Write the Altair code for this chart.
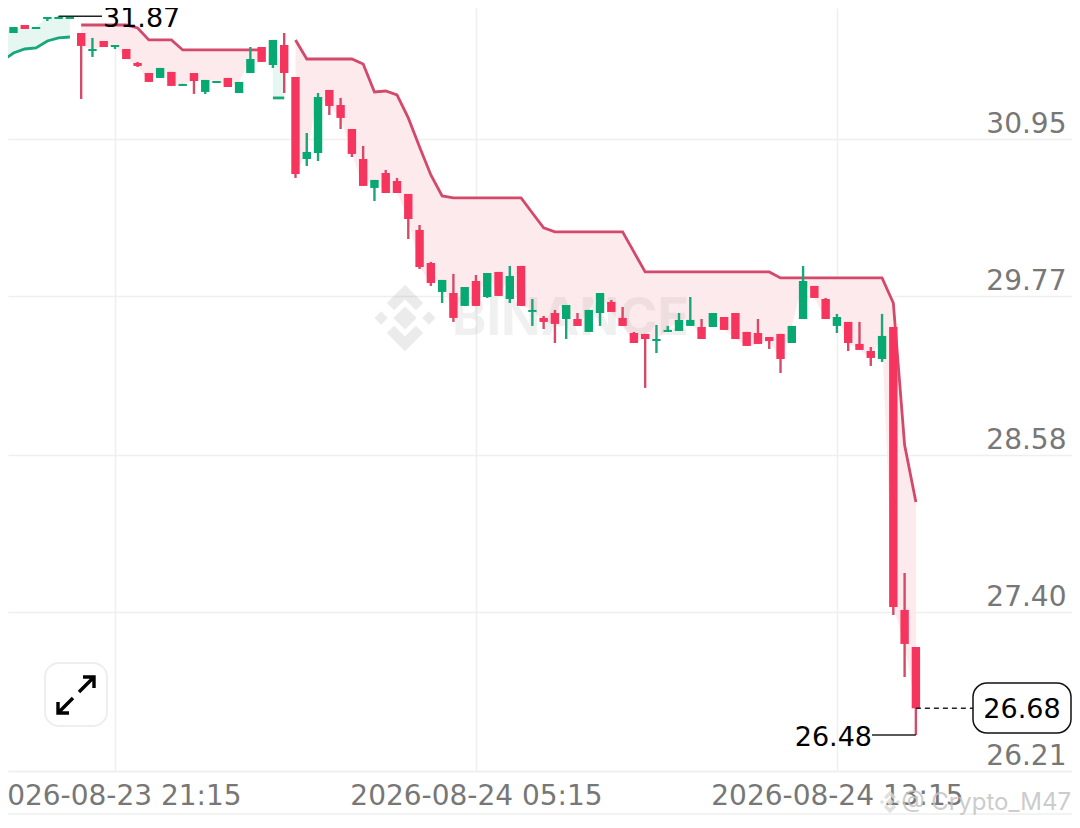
import altair as alt
import pandas as pd

FONT = "DejaVu Sans"
start = "2026-08-23T18:45:00Z"
opens = [31.700,31.745,31.805,31.775,31.850,31.850,31.850,31.745,31.610,31.685,
         31.640,31.625,31.520,31.445,31.408,31.453,31.348,31.445,31.303,31.370,
         31.408,31.295,31.445,31.640,31.505,31.655,31.415,30.800,30.845,31.318,
         31.205,31.025,30.800,30.583,30.695,30.635,30.538,30.268,30.020,29.803,
         29.795,29.698,29.885,29.765,29.953,29.750,29.998,29.653,29.608,29.645,
         29.600,29.600,29.503,29.645,29.728,29.608,29.495,29.488,29.435,29.503,
         29.510,29.548,29.540,29.540,29.615,29.645,29.503,29.495,29.465,29.488,
         29.420,29.600,29.848,29.750,29.548,29.578,29.413,29.360,29.300,29.540,
         27.418,27.140]
highs = [31.738,31.790,31.805,31.790,31.865,31.870,31.865,31.745,31.708,31.685,
         31.655,31.625,31.528,31.445,31.483,31.453,31.363,31.445,31.393,31.385,
         31.408,31.378,31.640,31.640,31.693,31.745,31.415,30.995,31.295,31.318,
         31.258,31.025,30.898,30.643,30.718,30.658,30.538,30.305,30.028,29.893,
         29.938,29.840,29.930,29.945,29.953,29.998,29.998,29.750,29.623,29.668,
         29.705,29.645,29.668,29.795,29.743,29.690,29.503,29.488,29.555,29.548,
         29.645,29.765,29.600,29.645,29.615,29.645,29.503,29.600,29.465,29.488,
         29.548,29.998,29.848,29.758,29.638,29.578,29.578,29.390,29.638,29.540,
         27.695,27.140]
lows = [31.700,31.745,31.775,31.775,31.835,31.850,31.850,31.250,31.565,31.640,
        31.625,31.550,31.490,31.378,31.408,31.348,31.348,31.288,31.288,31.370,
        31.340,31.295,31.445,31.528,31.483,31.295,30.658,30.748,30.785,31.130,
        31.025,30.815,30.598,30.485,30.545,30.545,30.200,29.975,29.848,29.720,
        29.578,29.698,29.698,29.758,29.773,29.720,29.698,29.548,29.525,29.420,
        29.450,29.548,29.503,29.548,29.653,29.548,29.420,29.083,29.345,29.503,
        29.510,29.548,29.450,29.540,29.518,29.450,29.398,29.413,29.375,29.195,
        29.420,29.600,29.758,29.600,29.495,29.360,29.368,29.248,29.278,27.380,
        26.915,26.480]
closes = [31.738,31.790,31.775,31.790,31.865,31.865,31.865,31.648,31.625,31.640,
          31.655,31.550,31.498,31.378,31.483,31.348,31.363,31.385,31.393,31.385,
          31.340,31.378,31.550,31.528,31.693,31.445,30.688,30.853,31.265,31.198,
          31.108,30.838,30.598,30.643,30.545,30.545,30.350,29.990,29.870,29.893,
          29.608,29.840,29.698,29.945,29.773,29.923,29.698,29.668,29.578,29.563,
          29.705,29.548,29.668,29.795,29.653,29.548,29.420,29.450,29.450,29.518,
          29.593,29.593,29.450,29.645,29.518,29.450,29.398,29.413,29.435,29.300,
          29.548,29.885,29.758,29.600,29.615,29.420,29.368,29.308,29.473,27.440,
          27.163,26.680]
trend = [31.535,31.595,31.625,31.633,31.685,31.708,31.715,
         31.805,31.805,31.805,31.805,31.805,31.783,31.693,31.693,31.693,
         31.618,31.618,31.618,31.618,31.618,31.618,31.618,31.618,
         31.258,31.258,
         31.693,31.550,31.550,31.550,31.550,31.550,31.513,31.303,31.310,31.280,
         31.108,30.890,30.680,30.523,30.508,30.508,30.508,30.508,30.508,30.508,
         30.508,30.395,30.283,30.253,30.253,30.253,30.253,30.253,30.253,30.253,
         30.103,29.953,29.953,29.953,29.953,29.953,29.953,29.953,29.953,29.953,
         29.953,29.953,29.953,29.908,29.908,29.908,29.908,29.908,29.908,29.908,
         29.908,29.908,29.908,29.720,28.655,28.228]
segment = ["g1"]*7 + ["r1"]*17 + ["g2"]*2 + ["r2"]*56
y_ticks = [30.95, 29.77, 28.58, 27.40, 26.21]
x_ticks = ["2026-08-23T21:15:00Z", "2026-08-24T05:15:00Z", "2026-08-24T13:15:00Z"]
y_domain = [26.21, 31.9325]
x_domain = ["2026-08-23T18:52:42Z", "2026-08-24T18:27:36Z"]
high_t, high_v = "2026-08-23T20:00:00Z", 31.87
low_t, low_v = "2026-08-24T15:00:00Z", 26.48
last_v = 26.68

times = pd.date_range(start=start, periods=len(opens), freq="15min").strftime("%Y-%m-%dT%H:%M:%SZ")
df = pd.DataFrame(dict(t=times, open=opens, high=highs, low=lows, close=closes,
                       trend=trend, seg=segment))
df["kind"] = df.seg.str[0]

GREEN, RED = "#07a871", "#f5355e"
LINE_R, LINE_G = "#d4486a", "#16a77a"
GRID = "#efefef"
LABEL = "#777777"

xs = alt.Scale(type="utc", domain=x_domain)
ys = alt.Scale(domain=y_domain, zero=False, nice=False)
x_axis = alt.Axis(
    values=x_ticks, labelExpr="utcFormat(datum.value, '%Y-%m-%d %H:%M')", grid=True, gridColor=GRID,
    gridWidth=1.5, ticks=False, domainColor=GRID, domainWidth=1.5, labelFont=FONT,
    labelFontSize=28, labelColor=LABEL, labelPadding=11, labelOverlap=False, labelLimit=400,
    labelFlush=False, labelBound=False)
y_axis = alt.Axis(
    values=y_ticks, orient="right", format=".2f", grid=True, gridColor=GRID, gridWidth=1.5,
    ticks=False, domain=False, labelFont=FONT, labelFontSize=28, labelColor=LABEL,
    labelAlign="right", labelPadding=-6, labelOffset=-15, labelOverlap=False,
    labelFlush=False, labelBound=False)
X = alt.X("t:T", scale=xs, axis=x_axis, title=None)
Y = lambda f: alt.Y(f, type="quantitative", scale=ys, axis=y_axis, title=None)
cond = lambda a, b: alt.condition("datum.close >= datum.open", alt.value(a), alt.value(b))
base = alt.Chart(df)

LOGO = ("M0,-0.35L0.35,0L0,0.35L-0.35,0Z M-0.72,-0.2L-0.52,0L-0.72,0.2L-0.92,0Z "
        "M0.72,-0.2L0.92,0L0.72,0.2L0.52,0Z "
        "M0,-1L0.55,-0.45L0.33,-0.23L0,-0.56L-0.33,-0.23L-0.55,-0.45Z "
        "M0,1L-0.55,0.45L-0.33,0.23L0,0.56L0.33,0.23L0.55,0.45Z")
logo = alt.Chart(pd.DataFrame({"name": ["Binance"]})).mark_point(
    shape=LOGO, filled=True, fill="#999999", opacity=0.2, size=4400
).encode(x=alt.value(397), y=alt.value(310))
brand = alt.Chart(pd.DataFrame({"name": ["BINANCE"]})).mark_text(
    font="Inter", fontSize=52, fontWeight="bold", color="#999999", opacity=0.14, align="left", baseline="middle"
).encode(x=alt.value(444), y=alt.value(311), text="name:N")

area = base.mark_area(opacity=1).encode(
    x=X, y=Y("trend"), y2="close:Q", detail="seg:N",
    color=alt.Color("kind:N", legend=None, scale=alt.Scale(domain=["g", "r"], range=["#e6f6f0", "#fdeaed"])))
line = base.mark_line(strokeWidth=2.8).encode(
    x=X, y=Y("trend"), detail="seg:N",
    color=alt.Color("kind:N", legend=None, scale=alt.Scale(domain=["g", "r"], range=[LINE_G, LINE_R])))
wick = base.mark_rule(strokeWidth=2.4).encode(
    x=X, y=Y("low"), y2="high:Q", color=cond("#1aa67a", "#d44a69"))
body = base.mark_rule(strokeWidth=8.4).encode(
    x=X, y=Y("open"), y2="close:Q", color=cond(GREEN, RED))

TXT = dict(font=FONT, fontSize=27, color="#000000", baseline="middle", dy=3)
high_df = pd.DataFrame({"t": [high_t], "v": [high_v], "s": ["31.87"]})
low_df = pd.DataFrame({"t": [low_t], "v": [low_v], "s": ["26.48"]})
last_df = pd.DataFrame({"t": [low_t], "v": [last_v], "s": ["26.68"]})

high_rule = alt.Chart(high_df).mark_rule(color="#222222", strokeWidth=1.5).encode(
    x=X, x2=alt.value(94), y=Y("v"))
high_txt = alt.Chart(high_df).mark_text(align="left", **TXT).encode(
    x=alt.value(95), y=Y("v"), text="s:N")
low_rule = alt.Chart(low_df).mark_rule(color="#222222", strokeWidth=1.5).encode(
    x=X, x2=alt.value(864), y=Y("v"))
low_txt = alt.Chart(low_df).mark_text(align="right", **TXT).encode(
    x=alt.value(864), y=Y("v"), text="s:N")
last_rule = alt.Chart(last_df).mark_rule(color="#222222", strokeWidth=1.5, strokeDash=[5, 4]).encode(
    x=X, x2=alt.value(965), y=Y("v"))
last_box = alt.Chart(last_df).mark_rect(
    fill="white", stroke="#111111", strokeWidth=1.5, cornerRadius=14
).encode(x=alt.value(965), x2=alt.value(1063), y=alt.value(675), y2=alt.value(725))
last_txt = alt.Chart(last_df).mark_text(align="center", **TXT).encode(
    x=alt.value(1014), y=alt.value(699), text="s:N")

one = pd.DataFrame({"name": ["icon"]})
btn = alt.Chart(one).mark_rect(
    fill="white", stroke="#eeeeee", strokeWidth=2, cornerRadius=14
).encode(x=alt.value(37), x2=alt.value(99), y=alt.value(655), y2=alt.value(718))
ARROWS = ("M0.15,-0.15L0.9,-0.9M0.35,-0.9L0.9,-0.9L0.9,-0.35"
          "M-0.15,0.15L-0.9,0.9M-0.9,0.35L-0.9,0.9L-0.35,0.9")
arrows = alt.Chart(one).mark_point(
    shape=ARROWS, filled=False, stroke="#000000", strokeWidth=3.4, opacity=1, size=1600
).encode(x=alt.value(68), y=alt.value(687))

foot = alt.Chart(one).mark_rule(color=GRID, strokeWidth=1.5).encode(
    x=alt.value(0), x2=alt.value(1064), y=alt.value(806))
mark_logo = alt.Chart(one).mark_point(
    shape=LOGO, filled=True, fill="#d8d8d8", opacity=0.8, size=500
).encode(x=alt.value(882), y=alt.value(794))
credit = alt.Chart(pd.DataFrame({"s": ["@ Crypto_M47"]})).mark_text(
    font="Inter", fontSize=24, color="#c4c4c4", opacity=0.85, align="right", baseline="middle"
).encode(x=alt.value(1063), y=alt.value(795), text="s:N")

chart = alt.layer(
    area, logo, brand, line, wick, body,
    high_rule, high_txt, low_rule, low_txt, last_rule, last_box, last_txt,
    btn, arrows, foot, mark_logo, credit
).resolve_scale(color="independent").properties(
    width=1064, height=763, background="white",
    padding={"left": 0, "right": 0, "top": 0, "bottom": 49},
    autosize=alt.AutoSizeParams(type="none")
).configure_view(stroke=None)

chart.save("out.html", embed_options={"renderer": "svg", "actions": False})
